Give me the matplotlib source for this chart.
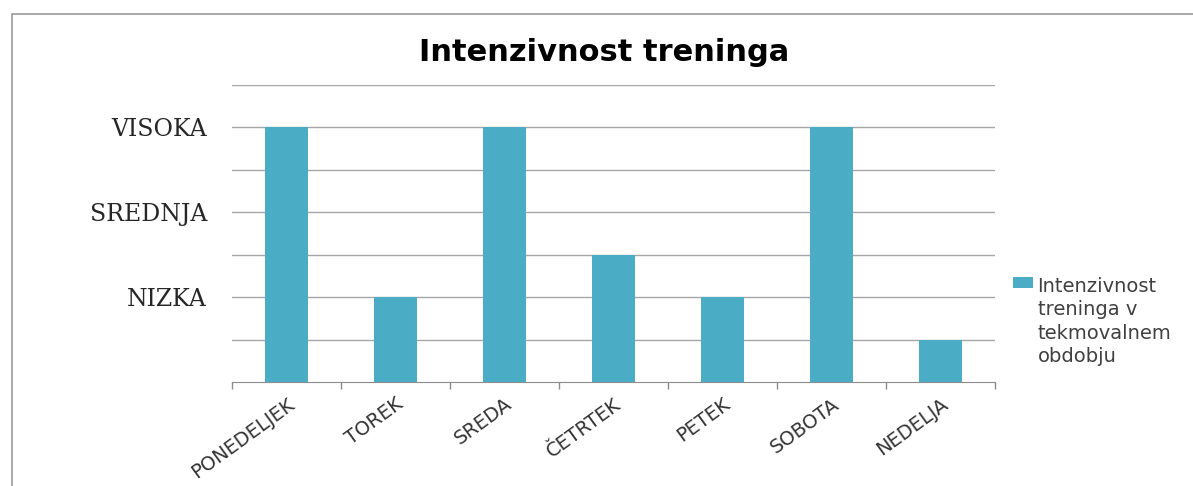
import numpy as np
import matplotlib.pyplot as plt
from matplotlib.patches import Rectangle

days = ["PONEDELJEK", "TOREK", "SREDA", "ČETRTEK", "PETEK", "SOBOTA", "NEDELJA"]
intensity = [6, 2, 6, 3, 2, 6, 1]
level_values = [2, 4, 6]
level_names = ["NIZKA", "SREDNJA", "VISOKA"]
series_name = "Intenzivnost\ntreninga v\ntekmovalnem\nobdobju"

BAR = "#4BACC6"
GRID = "#A6A6A6"

fig = plt.figure(figsize=(11.93, 4.86), dpi=100)
ax = fig.add_axes([0.1945, 0.214, 0.6395, 0.611])

# outer frame of the chart area
fig.patches.append(Rectangle((12 / 1193, -0.2), 1.2, 0.2 + (486 - 14) / 486,
                             transform=fig.transFigure, fill=False,
                             edgecolor="#999999", lw=1.2))

x = np.arange(len(days))
ax.bar(x, intensity, width=0.4, color=BAR, zorder=3, label=series_name)

ax.set_xlim(-0.5, len(days) - 0.5)
ax.set_ylim(0, 7)

# gridlines at every step, labels only on the three levels
ax.set_yticks(np.arange(1, 8))
ax.set_yticklabels([level_names[level_values.index(v)] if v in level_values else "" for v in range(1, 8)],
                   family="DejaVu Serif", fontsize=17, color="#262626")
ax.tick_params(axis="y", length=0, pad=18)
ax.grid(axis="y", color=GRID, lw=1, zorder=0)

ax.set_xticks(x)
ax.set_xticklabels(days, rotation=36, ha="right", rotation_mode="anchor",
                   family="DejaVu Sans", fontsize=14, color="#333333")
ax.set_xticks(np.arange(-0.5, len(days)), minor=True)
ax.tick_params(axis="x", which="major", length=0, pad=9)
ax.tick_params(axis="x", which="minor", length=5, color="#8C8C8C", width=1)

for s in ["top", "right", "left"]:
    ax.spines[s].set_visible(False)
ax.spines["bottom"].set_color("#8C8C8C")

fig.text(0.506, 0.893, "Intenzivnost treninga", ha="center", va="center",
         family="DejaVu Sans", fontweight="bold", fontsize=22)

leg = ax.legend(loc="upper left", bbox_to_anchor=(1.024, 0.355), frameon=False,
                prop={"family": "DejaVu Sans", "size": 14}, handlelength=1.0,
                handleheight=0.55, handletextpad=0.25, borderaxespad=0,
                borderpad=0)
for t in leg.get_texts():
    t.set_color("#404040")
    t.set_linespacing(1.3)
# put the colour square next to the first line of the label
for col in leg._legend_handle_box.get_children():
    for row in col.get_children():
        row.align = "top"

fig.savefig("out.png", dpi=100)
